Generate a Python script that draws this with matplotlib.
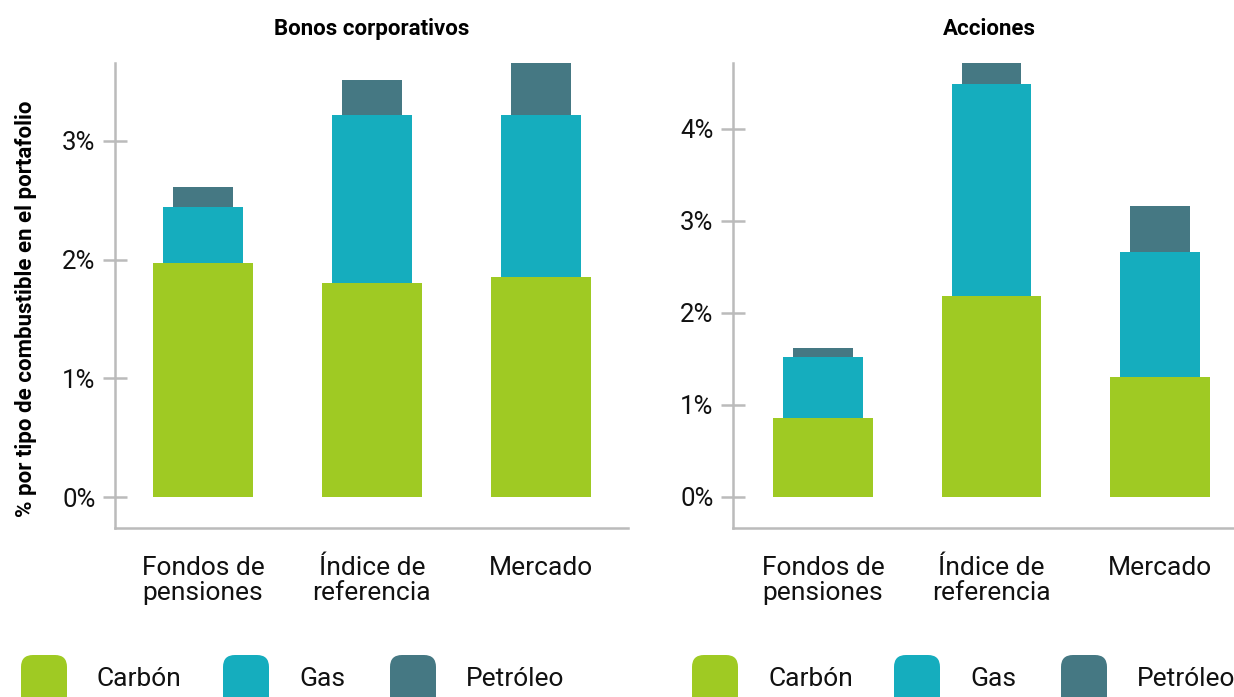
import matplotlib

matplotlib.use("Agg")
import matplotlib.pyplot as plt
from matplotlib.patches import FancyBboxPatch
from matplotlib.ticker import FuncFormatter

plt.rcParams["font.family"] = ["Roboto", "DejaVu Sans"]

categories = ["Fondos de\npensiones", "Índice de\nreferencia", "Mercado"]
fuels = ["Carbón", "Gas", "Petróleo"]
colors = ["#9fca23", "#15adbe", "#457883"]

# % per fuel type, stacked
bonos_carbon = [1.97, 1.80, 1.85]
bonos_gas = [0.47, 1.42, 1.37]
bonos_petroleo = [0.17, 0.29, 0.45]

acciones_carbon = [0.86, 2.18, 1.30]
acciones_gas = [0.66, 2.31, 1.36]
acciones_petroleo = [0.10, 0.23, 0.50]

widths = [0.59, 0.47, 0.355]
grey = "#bbbbbb"

W, H = 1234, 697
fig = plt.figure(figsize=(W / 100, H / 100), dpi=100)


def px_axes(x0, y0, x1, y1):
    return fig.add_axes([x0 / W, 1 - y1 / H, (x1 - x0) / W, (y1 - y0) / H])


def draw_panel(ax, series, title, xlim, ylim, yticks):
    x = range(len(categories))
    bottom = [0.0] * len(categories)
    for vals, col, w in zip(series, colors, widths):
        ax.bar(x, vals, width=w, bottom=bottom, color=col, linewidth=0)
        bottom = [b + v for b, v in zip(bottom, vals)]
    ax.set_xlim(*xlim)
    ax.set_ylim(*ylim)
    ax.set_yticks(yticks)
    ax.yaxis.set_major_formatter(FuncFormatter(lambda v, _: f"{v:.0f}%"))
    ax.set_xticks(list(x))
    ax.set_xticklabels(categories, fontsize=19, linespacing=1.05)
    for s in ["top", "right"]:
        ax.spines[s].set_visible(False)
    for s in ["left", "bottom"]:
        ax.spines[s].set_color(grey)
        ax.spines[s].set_linewidth(1.8)
    ax.tick_params(axis="y", direction="inout", length=17, width=1.8,
                   color=grey, labelsize=18.5, pad=5.5, labelcolor="#111111")
    ax.tick_params(axis="x", length=0, pad=20, labelcolor="#111111")
    ax.set_title(title, fontsize=16, fontweight="bold", pad=20)
    ax.patch.set_alpha(0)


ax1 = px_axes(115, 63, 628, 528)
draw_panel(ax1, [bonos_carbon, bonos_gas, bonos_petroleo],
           "Bonos corporativos", (-0.52, 2.515), (-0.261, 3.657), [0, 1, 2, 3])

ax2 = px_axes(733, 63, 1246, 528)
draw_panel(ax2, [acciones_carbon, acciones_gas, acciones_petroleo],
           "Acciones", (-0.534, 2.51), (-0.337, 4.717), [0, 1, 2, 3, 4])

fig.text(26 / W, 1 - 309 / H, "% por tipo de combustible en el portafolio",
         rotation=90, ha="center", va="center", fontsize=16, fontweight="bold")

# legend drawn in pixel space
leg = fig.add_axes([0, 0, 1, 1], zorder=-1)
leg.set_xlim(0, W)
leg.set_ylim(H, 0)
leg.axis("off")
for start in [21, 692]:
    offsets = [0, 202, 369]
    for name, col, off in zip(fuels, colors, offsets):
        leg.add_patch(FancyBboxPatch((start + off, 655), 46, 55,
                                     boxstyle="round,pad=0,rounding_size=12",
                                     facecolor=col, edgecolor="none"))
        leg.text(start + off + 76, 679, name, fontsize=19, va="center",
                 ha="left", color="#111111")

fig.savefig("out.png", dpi=100)
